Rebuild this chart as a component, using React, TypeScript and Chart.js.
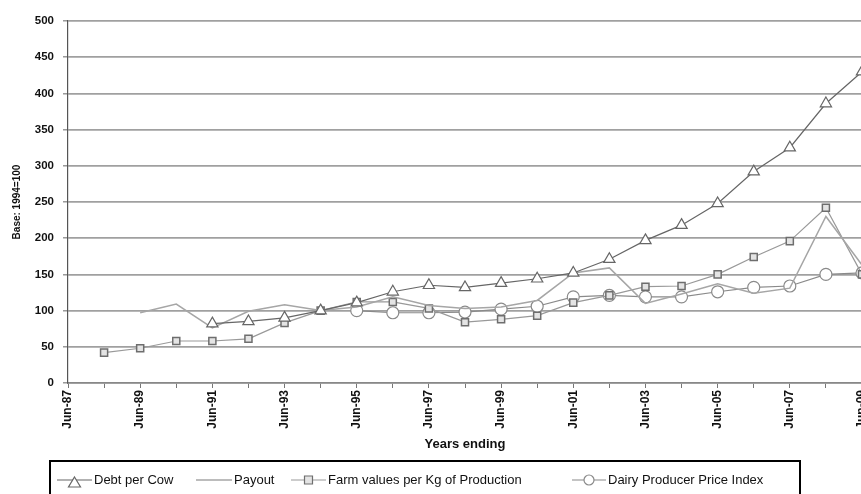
import React, { useEffect, useRef } from "react";
import { Chart, registerables } from "chart.js";

Chart.register(...registerables);

// Years ending June, one category per year
const years = [
  "Jun-87", "Jun-88", "Jun-89", "Jun-90", "Jun-91", "Jun-92", "Jun-93", "Jun-94",
  "Jun-95", "Jun-96", "Jun-97", "Jun-98", "Jun-99", "Jun-00", "Jun-01", "Jun-02",
  "Jun-03", "Jun-04", "Jun-05", "Jun-06", "Jun-07", "Jun-08", "Jun-09",
];

// Index values, base 1994 = 100
const debtPerCow = [
  null, null, null, null, 82, 85, 90, 100, 111, 126, 135, 132, 138, 144, 152, 171,
  197, 218, 248, 292, 325, 386, 430,
];
const payout = [
  null, null, 97, 109, 76, 99, 108, 100, 105, 119, 107, 103, 105, 114, 152, 159,
  110, 123, 137, 124, 131, 230, 163,
];
const farmValuesPerKg = [
  null, 42, 48, 58, 58, 61, 83, 100, 112, 112, 103, 84, 88, 93, 111, 121,
  133, 134, 150, 174, 196, 242, 150,
];
const dairyPriceIndex = [
  null, null, null, null, null, null, null, null, 100, 97, 97, 98, 102, 106, 119, 121,
  119, 119, 126, 132, 134, 150, 152,
];

const seriesNames = [
  "Debt per Cow",
  "Payout",
  "Farm values per Kg of Production",
  "Dairy Producer Price Index",
];

const FONT = "'Liberation Sans', Arial, sans-serif";

type Marker = "triangle" | "none" | "rect" | "circle";

function drawMarker(ctx: CanvasRenderingContext2D, kind: Marker, x: number, y: number, stroke: string, fill: string) {
  if (kind === "none") return;
  ctx.save();
  ctx.strokeStyle = stroke;
  ctx.fillStyle = fill;
  ctx.lineWidth = 1.2;
  ctx.beginPath();
  if (kind === "triangle") {
    ctx.moveTo(x, y - 6);
    ctx.lineTo(x + 6, y + 4);
    ctx.lineTo(x - 6, y + 4);
    ctx.closePath();
  } else if (kind === "rect") {
    ctx.rect(x - 4, y - 4, 8, 8);
  } else {
    ctx.arc(x, y, 5, 0, Math.PI * 2);
  }
  ctx.fill();
  ctx.stroke();
  ctx.restore();
}

// Boxed legend drawn underneath the axis title
const boxLegend = {
  id: "boxLegend",
  afterDraw(chart: any) {
    const ctx: CanvasRenderingContext2D = chart.ctx;
    ctx.save();
    ctx.strokeStyle = "#000";
    ctx.lineWidth = 2;
    ctx.strokeRect(50, 461, 750, 44);

    const lineStarts = [57, 196, 291, 572];
    const textStarts = [94, 234, 328, 608];
    const markers: Marker[] = ["triangle", "none", "rect", "circle"];
    const y = 480;
    chart.data.datasets.forEach((ds: any, i: number) => {
      ctx.strokeStyle = ds.borderColor;
      ctx.lineWidth = ds.borderWidth;
      ctx.beginPath();
      ctx.moveTo(lineStarts[i], y);
      ctx.lineTo(textStarts[i] - 2, y);
      ctx.stroke();
      const mx = (lineStarts[i] + textStarts[i] - 2) / 2;
      drawMarker(ctx, markers[i], mx, y + (markers[i] === "triangle" ? 3 : 0), ds.pointBorderColor, ds.pointBackgroundColor);
      ctx.fillStyle = "#111";
      ctx.font = `13px ${FONT}`;
      ctx.textBaseline = "middle";
      ctx.textAlign = "left";
      ctx.fillText(seriesNames[i], textStarts[i], y);
    });
    ctx.restore();
  },
};

export default function App() {
  const canvasRef = useRef<HTMLCanvasElement | null>(null);

  useEffect(() => {
    document.documentElement.style.overflow = "hidden";
    document.body.style.overflow = "hidden";
    const canvas = canvasRef.current;
    if (!canvas) return;

    const chart = new Chart(canvas, {
      type: "line",
      data: {
        labels: years,
        datasets: [
          {
            label: seriesNames[0],
            data: debtPerCow,
            borderColor: "#666666",
            borderWidth: 1.2,
            pointStyle: "triangle",
            pointRadius: 6.5,
            pointBorderColor: "#666666",
            pointBackgroundColor: "#ffffff",
            pointBorderWidth: 1.2,
          },
          {
            label: seriesNames[1],
            data: payout,
            borderColor: "#a6a6a6",
            borderWidth: 1.5,
            pointRadius: 0,
            pointBorderColor: "#a6a6a6",
            pointBackgroundColor: "#a6a6a6",
          },
          {
            label: seriesNames[2],
            data: farmValuesPerKg,
            borderColor: "#999999",
            borderWidth: 1.2,
            pointStyle: "rect",
            pointRadius: 5,
            pointBorderColor: "#6e6e6e",
            pointBackgroundColor: "#e4e4e4",
            pointBorderWidth: 1.5,
          },
          {
            label: seriesNames[3],
            data: dairyPriceIndex,
            borderColor: "#8a8a8a",
            borderWidth: 1.2,
            pointStyle: "circle",
            pointRadius: 6,
            pointBorderColor: "#8a8a8a",
            pointBackgroundColor: "#ffffff",
            pointBorderWidth: 1.2,
          },
        ],
      },
      options: {
        animation: false,
        responsive: false,
        maintainAspectRatio: false,
        spanGaps: false,
        layout: { padding: { left: 0, right: 18, top: 21, bottom: 39 } },
        plugins: {
          legend: { display: false },
          tooltip: { enabled: false },
        },
        scales: {
          x: {
            offset: false,
            grid: {
              drawOnChartArea: false,
              drawTicks: true,
              tickLength: 5,
              color: "#777",
            },
            border: { color: "#888", width: 1.5 },
            ticks: {
              autoSkip: false,
              maxRotation: 90,
              minRotation: 90,
              padding: 2,
              color: "#111",
              font: { family: FONT, size: 12, weight: "bold" },
              callback: (_v: any, i: number) => (i % 2 === 0 ? years[i] : ""),
            },
            title: {
              display: true,
              text: "Years ending",
              color: "#111",
              font: { family: FONT, size: 13, weight: "bold" },
              padding: { top: 2, bottom: 3 },
            },
            afterFit: (scale: any) => {
              scale.height = 72;
            },
          },
          y: {
            min: 0,
            max: 500,
            ticks: {
              stepSize: 50,
              padding: 9,
              color: "#111",
              font: { family: FONT, size: 11.5, weight: "bold" },
            },
            grid: {
              color: "#a0a0a0",
              lineWidth: 1.7,
              tickLength: 5,
              tickColor: "#666",
              tickWidth: 1,
            },
            border: { color: "#555", width: 1.2 },
            title: {
              display: true,
              text: "Base: 1994=100",
              color: "#111",
              font: { family: FONT, size: 10, weight: "bold" },
              padding: { top: 11, bottom: 0 },
            },
            afterFit: (scale: any) => {
              scale.width = 68;
            },
          },
        },
      },
      plugins: [boxLegend],
    });

    return () => chart.destroy();
  }, []);

  return (
    <div
      style={{
        position: "fixed",
        left: 0,
        top: 0,
        width: 861,
        height: 494,
        overflow: "hidden",
        background: "#ffffff",
      }}
    >
      <canvas
        ref={canvasRef}
        width={880}
        height={494}
        style={{ display: "block", width: 880, height: 494 }}
      />
    </div>
  );
}
